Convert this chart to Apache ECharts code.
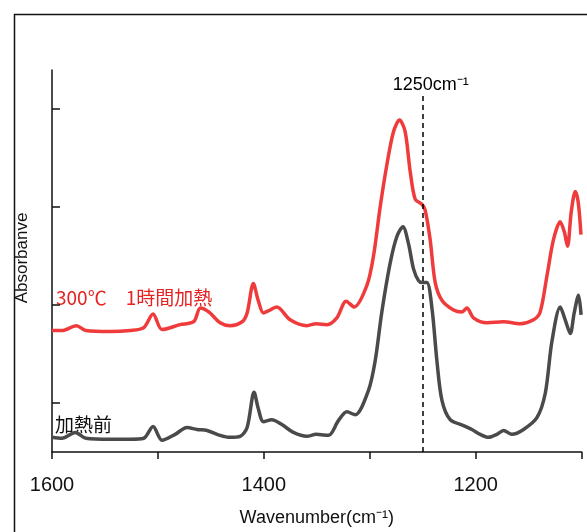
<!DOCTYPE html>
<html lang="ja">
<head>
<meta charset="utf-8">
<title>IR spectrum</title>
<script src="https://cdn.jsdelivr.net/npm/echarts@6/dist/echarts.min.js"></script>
<style>
  html, body { margin: 0; padding: 0; background: #fff; }
  #chart { width: 587px; height: 532px; }
</style>
</head>
<body>
<div id="chart"></div>
<script>
// ==================== データ ====================
// 300℃ 1時間加熱（赤）
const heatedWn = [1600, 1590.6, 1577, 1567.9, 1545.2, 1526.3, 1513.4, 1504.6, 1496.1, 1479.1, 1466.2, 1459.9, 1452, 1441.3, 1431.9, 1420.5, 1415.8, 1409.9, 1405.4, 1400.4, 1396, 1387.8, 1375.2, 1359.4, 1350.6, 1340.5, 1331.1, 1322.3, 1314.7, 1302.7, 1296.5, 1290.2, 1283.9, 1277.6, 1271.9, 1266.6, 1261.9, 1257.1, 1250.8, 1247.7, 1243, 1238.2, 1231.9, 1220.9, 1213, 1208.3, 1202.1, 1189.4, 1173.7, 1157.9, 1145.4, 1139.1, 1132.7, 1126.5, 1120.2, 1116.4, 1113.3, 1109.8, 1106, 1103.2, 1100.6];
const heatedAbs = [1.24, 1.24, 1.29, 1.24, 1.23, 1.24, 1.27, 1.41, 1.25, 1.30, 1.33, 1.47, 1.43, 1.32, 1.29, 1.33, 1.42, 1.72, 1.55, 1.42, 1.44, 1.48, 1.35, 1.29, 1.31, 1.30, 1.37, 1.54, 1.48, 1.70, 2.00, 2.50, 2.93, 3.27, 3.39, 3.27, 2.87, 2.58, 2.53, 2.47, 2.17, 1.73, 1.55, 1.45, 1.43, 1.47, 1.37, 1.32, 1.33, 1.31, 1.35, 1.43, 1.80, 2.17, 2.35, 2.25, 2.10, 2.45, 2.66, 2.55, 2.22];

// 加熱前（灰）
const beforeWn = [1600, 1590.6, 1578, 1567.9, 1545.2, 1526.3, 1513.4, 1504.6, 1496.1, 1483.8, 1472.5, 1463, 1453.6, 1441.3, 1431.9, 1422.4, 1415.8, 1409.2, 1405.4, 1400.4, 1392.5, 1383, 1372.1, 1359.4, 1350.6, 1339, 1329.6, 1321.6, 1313.8, 1301.2, 1294.9, 1288.6, 1280.7, 1274.4, 1268.7, 1263.5, 1258.7, 1254, 1250.5, 1246.1, 1241.3, 1236.6, 1231.9, 1224.1, 1211.5, 1203.6, 1195.7, 1187.9, 1180, 1173.7, 1165.8, 1154.8, 1142.2, 1134.3, 1128, 1120.2, 1115.5, 1110.7, 1107, 1102.9, 1100.5];
const beforeAbs = [0.15, 0.14, 0.20, 0.14, 0.13, 0.13, 0.14, 0.26, 0.12, 0.18, 0.25, 0.23, 0.22, 0.17, 0.15, 0.16, 0.25, 0.61, 0.45, 0.31, 0.33, 0.28, 0.20, 0.16, 0.18, 0.17, 0.32, 0.41, 0.38, 0.63, 0.93, 1.43, 1.93, 2.20, 2.30, 2.13, 1.87, 1.75, 1.73, 1.73, 1.47, 0.93, 0.53, 0.33, 0.27, 0.23, 0.18, 0.15, 0.18, 0.22, 0.18, 0.23, 0.35, 0.60, 1.13, 1.48, 1.35, 1.21, 1.42, 1.60, 1.40];

// 軸の目盛
const xTickLabels = [1600, 1400, 1200];
const yTickValues = [0.5, 1.5, 2.5, 3.5];

// 注目する波数
const markWn = 1250;

// ==================== 描画 ====================
const zip = (xs, ys) => xs.map((x, i) => [x, ys[i]]);

const RED = '#EF3B3B';
const GRAY = '#4A4A4A';

const chart = echarts.init(document.getElementById('chart'), null, { renderer: 'canvas' });

chart.setOption({
  animation: false,
  backgroundColor: '#fff',
  grid: { left: 52, right: 5.4, top: 70, bottom: 72, containLabel: false },
  xAxis: {
    type: 'value',
    inverse: true,
    min: 1100,
    max: 1600,
    interval: 100,
    name: 'Wavenumber(cm⁻¹)',
    nameLocation: 'middle',
    nameGap: 57,
    nameTextStyle: { color: '#111', fontSize: 18, fontFamily: 'Liberation Sans' },
    axisLine: { lineStyle: { color: '#111', width: 1.5 } },
    axisTick: { show: true, inside: false, length: 7, lineStyle: { color: '#111', width: 1.5 } },
    axisLabel: {
      color: '#111',
      fontSize: 20,
      fontFamily: 'Liberation Sans',
      margin: 23,
      formatter: (v) => (xTickLabels.includes(v) ? String(v) : '')
    },
    splitLine: { show: false }
  },
  yAxis: {
    type: 'value',
    min: 0,
    max: 3.9,
    axisLine: { show: true, lineStyle: { color: '#111', width: 1.5 } },
    axisTick: { show: true, inside: true, length: 8, customValues: yTickValues, lineStyle: { color: '#111', width: 1.5 } },
    axisLabel: { show: false },
    splitLine: { show: false }
  },
  series: [
    {
      name: '300℃ 1時間加熱',
      type: 'line',
      data: zip(heatedWn, heatedAbs),
      showSymbol: false,
      smooth: 0.3,
      lineStyle: { color: RED, width: 3.5 },
      z: 3
    },
    {
      name: '加熱前',
      type: 'line',
      data: zip(beforeWn, beforeAbs),
      showSymbol: false,
      smooth: 0.3,
      lineStyle: { color: GRAY, width: 3.5 },
      z: 3,
      markLine: {
        silent: true,
        symbol: 'none',
        lineStyle: { color: '#000', width: 1.5, type: [5, 4] },
        label: {
          show: true,
          position: 'end',
          distance: 3,
          offset: [8, 3],
          color: '#000',
          fontSize: 18,
          fontFamily: 'Liberation Sans',
          formatter: markWn + 'cm⁻¹'
        },
        data: [[{ coord: [markWn, 0] }, { coord: [markWn, 3.65] }]]
      }
    }
  ],
  graphic: [
    // 外枠
    {
      type: 'rect',
      left: 12,
      top: 12,
      shape: { x: 0, y: 0, width: 700, height: 700 },
      style: { fill: 'none', stroke: '#111', lineWidth: 1.5 },
      silent: true
    },
    // 縦軸タイトル
    {
      type: 'text',
      x: 22,
      y: 258,
      rotation: Math.PI / 2,
      style: {
        text: 'Absorbanve',
        fill: '#111',
        font: '17px "Liberation Sans"',
        align: 'center',
        verticalAlign: 'middle'
      }
    },
    // 系列ラベル
    {
      type: 'text',
      x: 56,
      y: 298,
      style: {
        text: '300℃　1時間加熱',
        fill: '#E62222',
        font: '19px "Noto Sans CJK JP"',
        align: 'left',
        verticalAlign: 'middle'
      }
    },
    {
      type: 'text',
      x: 55,
      y: 425,
      style: {
        text: '加熱前',
        fill: '#111',
        font: '19px "Noto Sans CJK JP"',
        align: 'left',
        verticalAlign: 'middle'
      }
    }
  ]
});
</script>
</body>
</html>
